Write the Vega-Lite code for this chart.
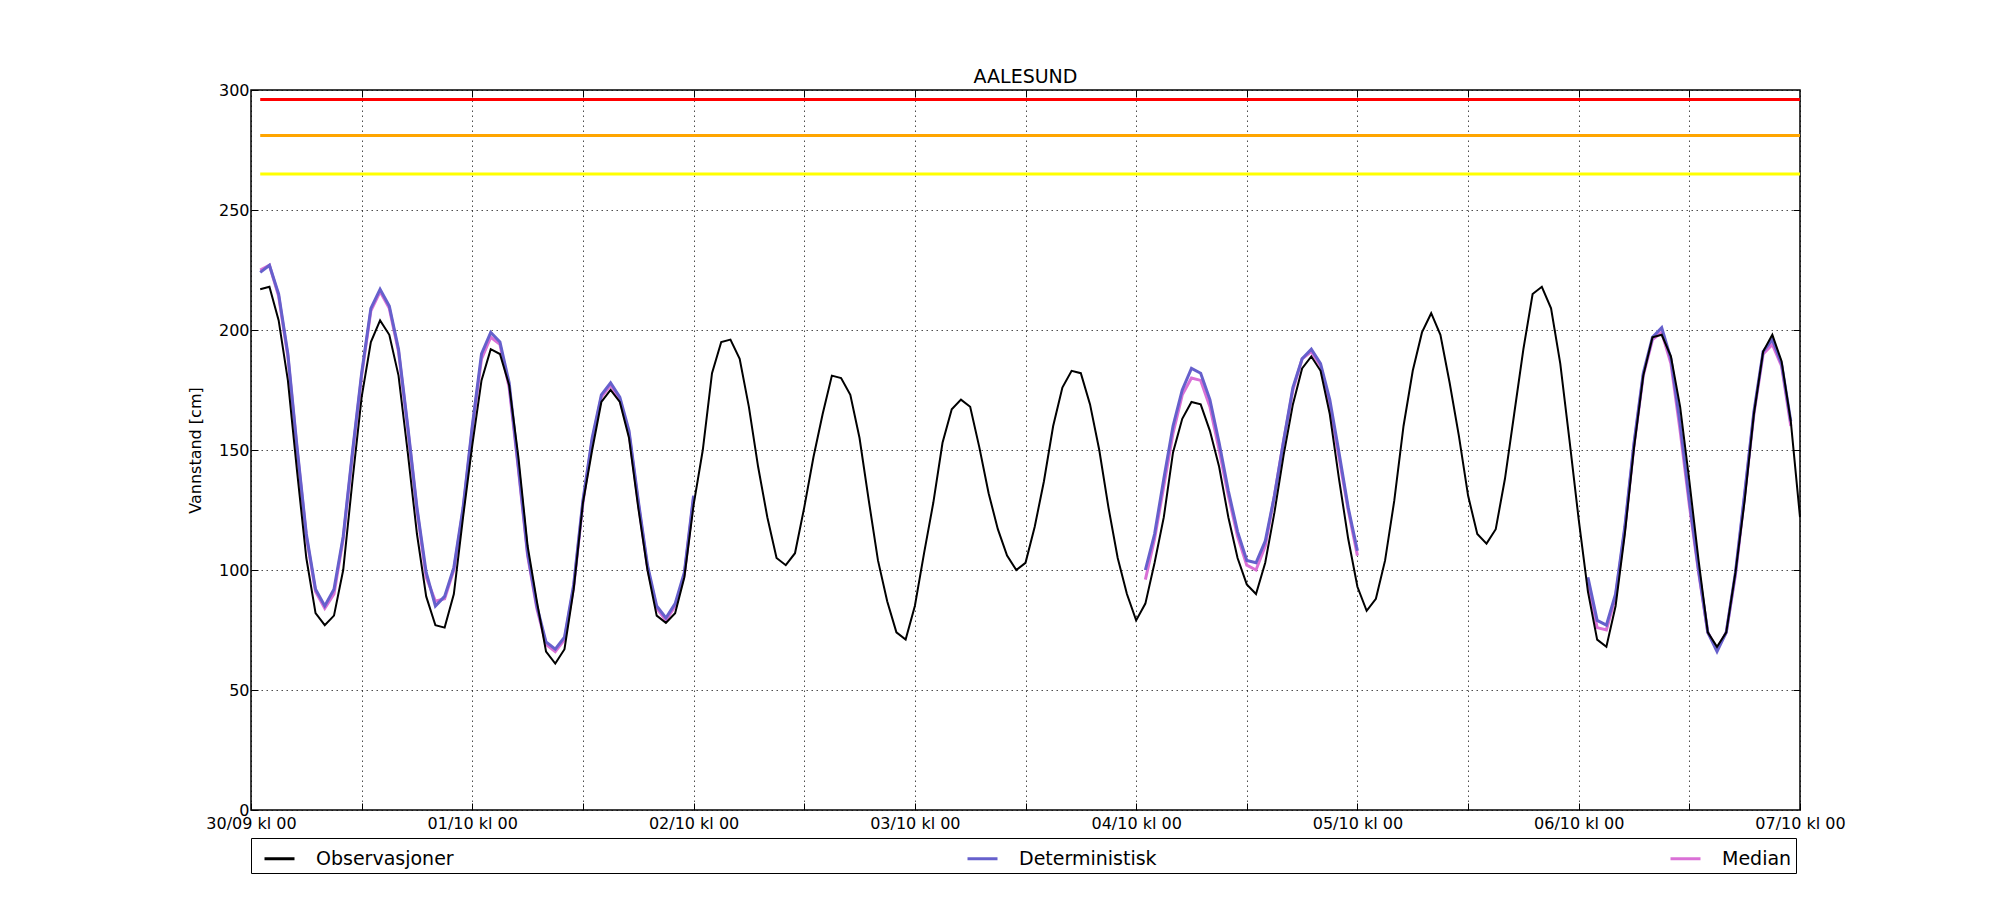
{
  "$schema": "https://vega.github.io/schema/vega-lite/v6.json",
  "width": 1549,
  "height": 720,
  "autosize": {"type": "none"},
  "padding": {"left": 251, "top": 90, "right": 200, "bottom": 90},
  "background": "white",
  "title": {"text": "AALESUND", "fontSize": 19, "fontWeight": "normal", "color": "black", "offset": -5, "anchor": "middle", "font": "DejaVu Sans"},
  "config": {
    "font": "DejaVu Sans",
    "view": {"stroke": "black", "strokeWidth": 1.5},
    "axis": {
      "domain": false, "gridColor": "black", "gridDash": [1.5, 3.5], "gridWidth": 0.7, "gridOpacity": 1,
      "tickColor": "black", "tickSize": -7, "tickWidth": 1,
      "labelFont": "DejaVu Sans", "labelFontSize": 16, "labelColor": "black",
      "titleFont": "DejaVu Sans", "titleFontSize": 16, "titleFontWeight": "normal", "titleColor": "black"
    },
    "legend": {
      "labelFont": "DejaVu Sans", "labelFontSize": 19, "labelColor": "black", "labelOffset": 20,
      "symbolType": "stroke", "symbolSize": 900, "symbolStrokeWidth": 3, "symbolOffset": 8
    }
  },
  "datasets": {
    "grenser": [
      {"grense": "rød", "v": 296, "t": "2015-09-30T01:00Z", "t2": "2015-10-07T00:00Z"},
      {"grense": "oransje", "v": 281, "t": "2015-09-30T01:00Z", "t2": "2015-10-07T00:00Z"},
      {"grense": "gul", "v": 265, "t": "2015-09-30T01:00Z", "t2": "2015-10-07T00:00Z"}
    ],
    "obs": [
      {"t": "2015-09-30T01:00Z", "v": 217}, {"t": "2015-09-30T02:00Z", "v": 218}, {"t": "2015-09-30T03:00Z", "v": 204}, {"t": "2015-09-30T04:00Z", "v": 179},
      {"t": "2015-09-30T05:00Z", "v": 141}, {"t": "2015-09-30T06:00Z", "v": 105}, {"t": "2015-09-30T07:00Z", "v": 82}, {"t": "2015-09-30T08:00Z", "v": 77},
      {"t": "2015-09-30T09:00Z", "v": 81}, {"t": "2015-09-30T10:00Z", "v": 100}, {"t": "2015-09-30T11:00Z", "v": 137}, {"t": "2015-09-30T12:00Z", "v": 172},
      {"t": "2015-09-30T13:00Z", "v": 195}, {"t": "2015-09-30T14:00Z", "v": 204}, {"t": "2015-09-30T15:00Z", "v": 198}, {"t": "2015-09-30T16:00Z", "v": 181},
      {"t": "2015-09-30T17:00Z", "v": 149}, {"t": "2015-09-30T18:00Z", "v": 115}, {"t": "2015-09-30T19:00Z", "v": 89}, {"t": "2015-09-30T20:00Z", "v": 77},
      {"t": "2015-09-30T21:00Z", "v": 76}, {"t": "2015-09-30T22:00Z", "v": 90}, {"t": "2015-09-30T23:00Z", "v": 122},
      {"t": "2015-10-01T00:00Z", "v": 152}, {"t": "2015-10-01T01:00Z", "v": 179}, {"t": "2015-10-01T02:00Z", "v": 192}, {"t": "2015-10-01T03:00Z", "v": 190},
      {"t": "2015-10-01T04:00Z", "v": 177}, {"t": "2015-10-01T05:00Z", "v": 147}, {"t": "2015-10-01T06:00Z", "v": 110}, {"t": "2015-10-01T07:00Z", "v": 87},
      {"t": "2015-10-01T08:00Z", "v": 66}, {"t": "2015-10-01T09:00Z", "v": 61}, {"t": "2015-10-01T10:00Z", "v": 67}, {"t": "2015-10-01T11:00Z", "v": 92},
      {"t": "2015-10-01T12:00Z", "v": 128}, {"t": "2015-10-01T13:00Z", "v": 150}, {"t": "2015-10-01T14:00Z", "v": 170}, {"t": "2015-10-01T15:00Z", "v": 175},
      {"t": "2015-10-01T16:00Z", "v": 170}, {"t": "2015-10-01T17:00Z", "v": 155}, {"t": "2015-10-01T18:00Z", "v": 126}, {"t": "2015-10-01T19:00Z", "v": 100},
      {"t": "2015-10-01T20:00Z", "v": 81}, {"t": "2015-10-01T21:00Z", "v": 78}, {"t": "2015-10-01T22:00Z", "v": 82}, {"t": "2015-10-01T23:00Z", "v": 97},
      {"t": "2015-10-02T00:00Z", "v": 127}, {"t": "2015-10-02T01:00Z", "v": 150}, {"t": "2015-10-02T02:00Z", "v": 182}, {"t": "2015-10-02T03:00Z", "v": 195},
      {"t": "2015-10-02T04:00Z", "v": 196}, {"t": "2015-10-02T05:00Z", "v": 188}, {"t": "2015-10-02T06:00Z", "v": 168}, {"t": "2015-10-02T07:00Z", "v": 143},
      {"t": "2015-10-02T08:00Z", "v": 122}, {"t": "2015-10-02T09:00Z", "v": 105}, {"t": "2015-10-02T10:00Z", "v": 102}, {"t": "2015-10-02T11:00Z", "v": 107},
      {"t": "2015-10-02T12:00Z", "v": 126}, {"t": "2015-10-02T13:00Z", "v": 147}, {"t": "2015-10-02T14:00Z", "v": 165}, {"t": "2015-10-02T15:00Z", "v": 181},
      {"t": "2015-10-02T16:00Z", "v": 180}, {"t": "2015-10-02T17:00Z", "v": 173}, {"t": "2015-10-02T18:00Z", "v": 155}, {"t": "2015-10-02T19:00Z", "v": 129},
      {"t": "2015-10-02T20:00Z", "v": 104}, {"t": "2015-10-02T21:00Z", "v": 87}, {"t": "2015-10-02T22:00Z", "v": 74}, {"t": "2015-10-02T23:00Z", "v": 71},
      {"t": "2015-10-03T00:00Z", "v": 85}, {"t": "2015-10-03T01:00Z", "v": 107}, {"t": "2015-10-03T02:00Z", "v": 128}, {"t": "2015-10-03T03:00Z", "v": 153},
      {"t": "2015-10-03T04:00Z", "v": 167}, {"t": "2015-10-03T05:00Z", "v": 171}, {"t": "2015-10-03T06:00Z", "v": 168}, {"t": "2015-10-03T07:00Z", "v": 151},
      {"t": "2015-10-03T08:00Z", "v": 132}, {"t": "2015-10-03T09:00Z", "v": 117}, {"t": "2015-10-03T10:00Z", "v": 106}, {"t": "2015-10-03T11:00Z", "v": 100},
      {"t": "2015-10-03T12:00Z", "v": 103}, {"t": "2015-10-03T13:00Z", "v": 118}, {"t": "2015-10-03T14:00Z", "v": 137}, {"t": "2015-10-03T15:00Z", "v": 160},
      {"t": "2015-10-03T16:00Z", "v": 176}, {"t": "2015-10-03T17:00Z", "v": 183}, {"t": "2015-10-03T18:00Z", "v": 182}, {"t": "2015-10-03T19:00Z", "v": 169},
      {"t": "2015-10-03T20:00Z", "v": 150}, {"t": "2015-10-03T21:00Z", "v": 126}, {"t": "2015-10-03T22:00Z", "v": 105}, {"t": "2015-10-03T23:00Z", "v": 90},
      {"t": "2015-10-04T00:00Z", "v": 79}, {"t": "2015-10-04T01:00Z", "v": 86}, {"t": "2015-10-04T02:00Z", "v": 103}, {"t": "2015-10-04T03:00Z", "v": 122},
      {"t": "2015-10-04T04:00Z", "v": 149}, {"t": "2015-10-04T05:00Z", "v": 163}, {"t": "2015-10-04T06:00Z", "v": 170}, {"t": "2015-10-04T07:00Z", "v": 169},
      {"t": "2015-10-04T08:00Z", "v": 158}, {"t": "2015-10-04T09:00Z", "v": 143}, {"t": "2015-10-04T10:00Z", "v": 122}, {"t": "2015-10-04T11:00Z", "v": 105},
      {"t": "2015-10-04T12:00Z", "v": 94}, {"t": "2015-10-04T13:00Z", "v": 90}, {"t": "2015-10-04T14:00Z", "v": 103}, {"t": "2015-10-04T15:00Z", "v": 124},
      {"t": "2015-10-04T16:00Z", "v": 148}, {"t": "2015-10-04T17:00Z", "v": 169}, {"t": "2015-10-04T18:00Z", "v": 184}, {"t": "2015-10-04T19:00Z", "v": 189},
      {"t": "2015-10-04T20:00Z", "v": 183}, {"t": "2015-10-04T21:00Z", "v": 165}, {"t": "2015-10-04T22:00Z", "v": 138}, {"t": "2015-10-04T23:00Z", "v": 113},
      {"t": "2015-10-05T00:00Z", "v": 93}, {"t": "2015-10-05T01:00Z", "v": 83}, {"t": "2015-10-05T02:00Z", "v": 88}, {"t": "2015-10-05T03:00Z", "v": 104},
      {"t": "2015-10-05T04:00Z", "v": 129}, {"t": "2015-10-05T05:00Z", "v": 160}, {"t": "2015-10-05T06:00Z", "v": 183}, {"t": "2015-10-05T07:00Z", "v": 199},
      {"t": "2015-10-05T08:00Z", "v": 207}, {"t": "2015-10-05T09:00Z", "v": 198}, {"t": "2015-10-05T10:00Z", "v": 178}, {"t": "2015-10-05T11:00Z", "v": 156},
      {"t": "2015-10-05T12:00Z", "v": 131}, {"t": "2015-10-05T13:00Z", "v": 115}, {"t": "2015-10-05T14:00Z", "v": 111}, {"t": "2015-10-05T15:00Z", "v": 117},
      {"t": "2015-10-05T16:00Z", "v": 138}, {"t": "2015-10-05T17:00Z", "v": 165}, {"t": "2015-10-05T18:00Z", "v": 192}, {"t": "2015-10-05T19:00Z", "v": 215},
      {"t": "2015-10-05T20:00Z", "v": 218}, {"t": "2015-10-05T21:00Z", "v": 209}, {"t": "2015-10-05T22:00Z", "v": 186}, {"t": "2015-10-05T23:00Z", "v": 154},
      {"t": "2015-10-06T00:00Z", "v": 121}, {"t": "2015-10-06T01:00Z", "v": 91}, {"t": "2015-10-06T02:00Z", "v": 71}, {"t": "2015-10-06T03:00Z", "v": 68},
      {"t": "2015-10-06T04:00Z", "v": 85}, {"t": "2015-10-06T05:00Z", "v": 115}, {"t": "2015-10-06T06:00Z", "v": 151}, {"t": "2015-10-06T07:00Z", "v": 181},
      {"t": "2015-10-06T08:00Z", "v": 197}, {"t": "2015-10-06T09:00Z", "v": 198}, {"t": "2015-10-06T10:00Z", "v": 189}, {"t": "2015-10-06T11:00Z", "v": 168},
      {"t": "2015-10-06T12:00Z", "v": 137}, {"t": "2015-10-06T13:00Z", "v": 104}, {"t": "2015-10-06T14:00Z", "v": 74}, {"t": "2015-10-06T15:00Z", "v": 68},
      {"t": "2015-10-06T16:00Z", "v": 74}, {"t": "2015-10-06T17:00Z", "v": 99}, {"t": "2015-10-06T18:00Z", "v": 129}, {"t": "2015-10-06T19:00Z", "v": 165},
      {"t": "2015-10-06T20:00Z", "v": 191}, {"t": "2015-10-06T21:00Z", "v": 198}, {"t": "2015-10-06T22:00Z", "v": 187}, {"t": "2015-10-06T23:00Z", "v": 162},
      {"t": "2015-10-07T00:00Z", "v": 122}
    ],
    "det": [
      {"del": 1, "t": "2015-09-30T01:00Z", "v": 224}, {"del": 1, "t": "2015-09-30T02:00Z", "v": 227}, {"del": 1, "t": "2015-09-30T03:00Z", "v": 215}, {"del": 1, "t": "2015-09-30T04:00Z", "v": 190},
      {"del": 1, "t": "2015-09-30T05:00Z", "v": 151}, {"del": 1, "t": "2015-09-30T06:00Z", "v": 115}, {"del": 1, "t": "2015-09-30T07:00Z", "v": 92}, {"del": 1, "t": "2015-09-30T08:00Z", "v": 85},
      {"del": 1, "t": "2015-09-30T09:00Z", "v": 92}, {"del": 1, "t": "2015-09-30T10:00Z", "v": 114}, {"del": 1, "t": "2015-09-30T11:00Z", "v": 149}, {"del": 1, "t": "2015-09-30T12:00Z", "v": 182},
      {"del": 1, "t": "2015-09-30T13:00Z", "v": 209}, {"del": 1, "t": "2015-09-30T14:00Z", "v": 217}, {"del": 1, "t": "2015-09-30T15:00Z", "v": 210}, {"del": 1, "t": "2015-09-30T16:00Z", "v": 192},
      {"del": 1, "t": "2015-09-30T17:00Z", "v": 160}, {"del": 1, "t": "2015-09-30T18:00Z", "v": 126}, {"del": 1, "t": "2015-09-30T19:00Z", "v": 99}, {"del": 1, "t": "2015-09-30T20:00Z", "v": 85},
      {"del": 1, "t": "2015-09-30T21:00Z", "v": 89}, {"del": 1, "t": "2015-09-30T22:00Z", "v": 101}, {"del": 1, "t": "2015-09-30T23:00Z", "v": 126},
      {"del": 1, "t": "2015-10-01T00:00Z", "v": 160}, {"del": 1, "t": "2015-10-01T01:00Z", "v": 190}, {"del": 1, "t": "2015-10-01T02:00Z", "v": 199}, {"del": 1, "t": "2015-10-01T03:00Z", "v": 195},
      {"del": 1, "t": "2015-10-01T04:00Z", "v": 178}, {"del": 1, "t": "2015-10-01T05:00Z", "v": 143}, {"del": 1, "t": "2015-10-01T06:00Z", "v": 107}, {"del": 1, "t": "2015-10-01T07:00Z", "v": 85},
      {"del": 1, "t": "2015-10-01T08:00Z", "v": 70}, {"del": 1, "t": "2015-10-01T09:00Z", "v": 67}, {"del": 1, "t": "2015-10-01T10:00Z", "v": 72}, {"del": 1, "t": "2015-10-01T11:00Z", "v": 94},
      {"del": 1, "t": "2015-10-01T12:00Z", "v": 129}, {"del": 1, "t": "2015-10-01T13:00Z", "v": 155}, {"del": 1, "t": "2015-10-01T14:00Z", "v": 173}, {"del": 1, "t": "2015-10-01T15:00Z", "v": 178},
      {"del": 1, "t": "2015-10-01T16:00Z", "v": 172}, {"del": 1, "t": "2015-10-01T17:00Z", "v": 158}, {"del": 1, "t": "2015-10-01T18:00Z", "v": 129}, {"del": 1, "t": "2015-10-01T19:00Z", "v": 102},
      {"del": 1, "t": "2015-10-01T20:00Z", "v": 85}, {"del": 1, "t": "2015-10-01T21:00Z", "v": 80}, {"del": 1, "t": "2015-10-01T22:00Z", "v": 86}, {"del": 1, "t": "2015-10-01T23:00Z", "v": 99},
      {"del": 1, "t": "2015-10-02T00:00Z", "v": 131},
      {"del": 2, "t": "2015-10-04T01:00Z", "v": 100}, {"del": 2, "t": "2015-10-04T02:00Z", "v": 115}, {"del": 2, "t": "2015-10-04T03:00Z", "v": 138}, {"del": 2, "t": "2015-10-04T04:00Z", "v": 160},
      {"del": 2, "t": "2015-10-04T05:00Z", "v": 175}, {"del": 2, "t": "2015-10-04T06:00Z", "v": 184}, {"del": 2, "t": "2015-10-04T07:00Z", "v": 182}, {"del": 2, "t": "2015-10-04T08:00Z", "v": 171},
      {"del": 2, "t": "2015-10-04T09:00Z", "v": 153}, {"del": 2, "t": "2015-10-04T10:00Z", "v": 133}, {"del": 2, "t": "2015-10-04T11:00Z", "v": 116}, {"del": 2, "t": "2015-10-04T12:00Z", "v": 104},
      {"del": 2, "t": "2015-10-04T13:00Z", "v": 103}, {"del": 2, "t": "2015-10-04T14:00Z", "v": 112}, {"del": 2, "t": "2015-10-04T15:00Z", "v": 131}, {"del": 2, "t": "2015-10-04T16:00Z", "v": 154},
      {"del": 2, "t": "2015-10-04T17:00Z", "v": 176}, {"del": 2, "t": "2015-10-04T18:00Z", "v": 188}, {"del": 2, "t": "2015-10-04T19:00Z", "v": 192}, {"del": 2, "t": "2015-10-04T20:00Z", "v": 186},
      {"del": 2, "t": "2015-10-04T21:00Z", "v": 171}, {"del": 2, "t": "2015-10-04T22:00Z", "v": 149}, {"del": 2, "t": "2015-10-04T23:00Z", "v": 126}, {"del": 2, "t": "2015-10-05T00:00Z", "v": 108},
      {"del": 3, "t": "2015-10-06T01:00Z", "v": 97}, {"del": 3, "t": "2015-10-06T02:00Z", "v": 79}, {"del": 3, "t": "2015-10-06T03:00Z", "v": 77}, {"del": 3, "t": "2015-10-06T04:00Z", "v": 90},
      {"del": 3, "t": "2015-10-06T05:00Z", "v": 118}, {"del": 3, "t": "2015-10-06T06:00Z", "v": 153}, {"del": 3, "t": "2015-10-06T07:00Z", "v": 182}, {"del": 3, "t": "2015-10-06T08:00Z", "v": 197},
      {"del": 3, "t": "2015-10-06T09:00Z", "v": 201}, {"del": 3, "t": "2015-10-06T10:00Z", "v": 188}, {"del": 3, "t": "2015-10-06T11:00Z", "v": 161}, {"del": 3, "t": "2015-10-06T12:00Z", "v": 129},
      {"del": 3, "t": "2015-10-06T13:00Z", "v": 100}, {"del": 3, "t": "2015-10-06T14:00Z", "v": 74}, {"del": 3, "t": "2015-10-06T15:00Z", "v": 66}, {"del": 3, "t": "2015-10-06T16:00Z", "v": 74},
      {"del": 3, "t": "2015-10-06T17:00Z", "v": 99}, {"del": 3, "t": "2015-10-06T18:00Z", "v": 132}, {"del": 3, "t": "2015-10-06T19:00Z", "v": 166}, {"del": 3, "t": "2015-10-06T20:00Z", "v": 191},
      {"del": 3, "t": "2015-10-06T21:00Z", "v": 196}, {"del": 3, "t": "2015-10-06T22:00Z", "v": 186}, {"del": 3, "t": "2015-10-06T23:00Z", "v": 162}
    ],
    "med": [
      {"del": 1, "t": "2015-09-30T01:00Z", "v": 225}, {"del": 1, "t": "2015-09-30T02:00Z", "v": 227}, {"del": 1, "t": "2015-09-30T03:00Z", "v": 214}, {"del": 1, "t": "2015-09-30T04:00Z", "v": 189},
      {"del": 1, "t": "2015-09-30T05:00Z", "v": 150}, {"del": 1, "t": "2015-09-30T06:00Z", "v": 114}, {"del": 1, "t": "2015-09-30T07:00Z", "v": 91}, {"del": 1, "t": "2015-09-30T08:00Z", "v": 84},
      {"del": 1, "t": "2015-09-30T09:00Z", "v": 90}, {"del": 1, "t": "2015-09-30T10:00Z", "v": 113}, {"del": 1, "t": "2015-09-30T11:00Z", "v": 148}, {"del": 1, "t": "2015-09-30T12:00Z", "v": 181},
      {"del": 1, "t": "2015-09-30T13:00Z", "v": 208}, {"del": 1, "t": "2015-09-30T14:00Z", "v": 216}, {"del": 1, "t": "2015-09-30T15:00Z", "v": 209}, {"del": 1, "t": "2015-09-30T16:00Z", "v": 191},
      {"del": 1, "t": "2015-09-30T17:00Z", "v": 159}, {"del": 1, "t": "2015-09-30T18:00Z", "v": 125}, {"del": 1, "t": "2015-09-30T19:00Z", "v": 97}, {"del": 1, "t": "2015-09-30T20:00Z", "v": 87},
      {"del": 1, "t": "2015-09-30T21:00Z", "v": 88}, {"del": 1, "t": "2015-09-30T22:00Z", "v": 100}, {"del": 1, "t": "2015-09-30T23:00Z", "v": 125},
      {"del": 1, "t": "2015-10-01T00:00Z", "v": 159}, {"del": 1, "t": "2015-10-01T01:00Z", "v": 188}, {"del": 1, "t": "2015-10-01T02:00Z", "v": 197}, {"del": 1, "t": "2015-10-01T03:00Z", "v": 194},
      {"del": 1, "t": "2015-10-01T04:00Z", "v": 176}, {"del": 1, "t": "2015-10-01T05:00Z", "v": 142}, {"del": 1, "t": "2015-10-01T06:00Z", "v": 106}, {"del": 1, "t": "2015-10-01T07:00Z", "v": 84},
      {"del": 1, "t": "2015-10-01T08:00Z", "v": 69}, {"del": 1, "t": "2015-10-01T09:00Z", "v": 66}, {"del": 1, "t": "2015-10-01T10:00Z", "v": 71}, {"del": 1, "t": "2015-10-01T11:00Z", "v": 93},
      {"del": 1, "t": "2015-10-01T12:00Z", "v": 128}, {"del": 1, "t": "2015-10-01T13:00Z", "v": 154}, {"del": 1, "t": "2015-10-01T14:00Z", "v": 172}, {"del": 1, "t": "2015-10-01T15:00Z", "v": 177},
      {"del": 1, "t": "2015-10-01T16:00Z", "v": 171}, {"del": 1, "t": "2015-10-01T17:00Z", "v": 157}, {"del": 1, "t": "2015-10-01T18:00Z", "v": 128}, {"del": 1, "t": "2015-10-01T19:00Z", "v": 101},
      {"del": 1, "t": "2015-10-01T20:00Z", "v": 84}, {"del": 1, "t": "2015-10-01T21:00Z", "v": 79}, {"del": 1, "t": "2015-10-01T22:00Z", "v": 85}, {"del": 1, "t": "2015-10-01T23:00Z", "v": 98},
      {"del": 1, "t": "2015-10-02T00:00Z", "v": 130},
      {"del": 2, "t": "2015-10-04T01:00Z", "v": 96}, {"del": 2, "t": "2015-10-04T02:00Z", "v": 113}, {"del": 2, "t": "2015-10-04T03:00Z", "v": 135}, {"del": 2, "t": "2015-10-04T04:00Z", "v": 157},
      {"del": 2, "t": "2015-10-04T05:00Z", "v": 173}, {"del": 2, "t": "2015-10-04T06:00Z", "v": 180}, {"del": 2, "t": "2015-10-04T07:00Z", "v": 179}, {"del": 2, "t": "2015-10-04T08:00Z", "v": 168},
      {"del": 2, "t": "2015-10-04T09:00Z", "v": 150}, {"del": 2, "t": "2015-10-04T10:00Z", "v": 131}, {"del": 2, "t": "2015-10-04T11:00Z", "v": 114}, {"del": 2, "t": "2015-10-04T12:00Z", "v": 102},
      {"del": 2, "t": "2015-10-04T13:00Z", "v": 100}, {"del": 2, "t": "2015-10-04T14:00Z", "v": 110}, {"del": 2, "t": "2015-10-04T15:00Z", "v": 131}, {"del": 2, "t": "2015-10-04T16:00Z", "v": 154},
      {"del": 2, "t": "2015-10-04T17:00Z", "v": 175}, {"del": 2, "t": "2015-10-04T18:00Z", "v": 188}, {"del": 2, "t": "2015-10-04T19:00Z", "v": 191}, {"del": 2, "t": "2015-10-04T20:00Z", "v": 185},
      {"del": 2, "t": "2015-10-04T21:00Z", "v": 169}, {"del": 2, "t": "2015-10-04T22:00Z", "v": 147}, {"del": 2, "t": "2015-10-04T23:00Z", "v": 125}, {"del": 2, "t": "2015-10-05T00:00Z", "v": 106},
      {"del": 3, "t": "2015-10-06T01:00Z", "v": 95}, {"del": 3, "t": "2015-10-06T02:00Z", "v": 76}, {"del": 3, "t": "2015-10-06T03:00Z", "v": 75}, {"del": 3, "t": "2015-10-06T04:00Z", "v": 89},
      {"del": 3, "t": "2015-10-06T05:00Z", "v": 117}, {"del": 3, "t": "2015-10-06T06:00Z", "v": 152}, {"del": 3, "t": "2015-10-06T07:00Z", "v": 181}, {"del": 3, "t": "2015-10-06T08:00Z", "v": 196},
      {"del": 3, "t": "2015-10-06T09:00Z", "v": 199}, {"del": 3, "t": "2015-10-06T10:00Z", "v": 186}, {"del": 3, "t": "2015-10-06T11:00Z", "v": 158}, {"del": 3, "t": "2015-10-06T12:00Z", "v": 127},
      {"del": 3, "t": "2015-10-06T13:00Z", "v": 99}, {"del": 3, "t": "2015-10-06T14:00Z", "v": 74}, {"del": 3, "t": "2015-10-06T15:00Z", "v": 67}, {"del": 3, "t": "2015-10-06T16:00Z", "v": 74},
      {"del": 3, "t": "2015-10-06T17:00Z", "v": 98}, {"del": 3, "t": "2015-10-06T18:00Z", "v": 131}, {"del": 3, "t": "2015-10-06T19:00Z", "v": 165}, {"del": 3, "t": "2015-10-06T20:00Z", "v": 190},
      {"del": 3, "t": "2015-10-06T21:00Z", "v": 194}, {"del": 3, "t": "2015-10-06T22:00Z", "v": 185}, {"del": 3, "t": "2015-10-06T23:00Z", "v": 160}
    ]
  },
  "resolve": {"axis": {"x": "independent", "y": "independent"}},
  "layer": [
    {
      "encoding": {
        "x": {
          "field": "t", "type": "temporal",
          "scale": {"type": "utc", "domain": [{"year": 2015, "month": 9, "date": 30, "hours": 0, "utc": true}, {"year": 2015, "month": 10, "date": 7, "hours": 0, "utc": true}]},
          "axis": {
            "orient": "bottom", "grid": true, "title": null, "labelPadding": 12, "labelFlush": false, "labelOverlap": false,
            "values": [
              {"year": 2015, "month": 9, "date": 30, "hours": 0, "utc": true}, {"year": 2015, "month": 9, "date": 30, "hours": 12, "utc": true},
              {"year": 2015, "month": 10, "date": 1, "hours": 0, "utc": true}, {"year": 2015, "month": 10, "date": 1, "hours": 12, "utc": true},
              {"year": 2015, "month": 10, "date": 2, "hours": 0, "utc": true}, {"year": 2015, "month": 10, "date": 2, "hours": 12, "utc": true},
              {"year": 2015, "month": 10, "date": 3, "hours": 0, "utc": true}, {"year": 2015, "month": 10, "date": 3, "hours": 12, "utc": true},
              {"year": 2015, "month": 10, "date": 4, "hours": 0, "utc": true}, {"year": 2015, "month": 10, "date": 4, "hours": 12, "utc": true},
              {"year": 2015, "month": 10, "date": 5, "hours": 0, "utc": true}, {"year": 2015, "month": 10, "date": 5, "hours": 12, "utc": true},
              {"year": 2015, "month": 10, "date": 6, "hours": 0, "utc": true}, {"year": 2015, "month": 10, "date": 6, "hours": 12, "utc": true},
              {"year": 2015, "month": 10, "date": 7, "hours": 0, "utc": true}
            ],
            "labelExpr": "utchours(datum.value) == 0 ? utcFormat(datum.value, '%d/%m kl %H') : ''"
          }
        },
        "y": {
          "field": "v", "type": "quantitative",
          "scale": {"domain": [0, 300], "nice": false},
          "axis": {"orient": "left", "grid": true, "title": "Vannstand [cm]", "values": [0, 50, 100, 150, 200, 250, 300], "labelPadding": 9, "titlePadding": 15}
        }
      },
      "layer": [
        {
          "data": {"name": "med"},
          "mark": {"type": "line", "strokeWidth": 3},
          "encoding": {
            "detail": {"field": "del", "type": "nominal"},
            "color": {
              "datum": "Median",
              "scale": {"domain": ["Observasjoner", "Deterministisk", "Median"], "range": ["#000000", "#6660cc", "#da70d6"]},
              "legend": {"title": null, "orient": "none", "legendX": 0, "legendY": 748, "direction": "horizontal", "columns": 3, "columnPadding": 504, "padding": 4, "strokeColor": "black"}
            }
          }
        },
        {
          "data": {"name": "det"},
          "mark": {"type": "line", "strokeWidth": 3},
          "encoding": {
            "detail": {"field": "del", "type": "nominal"},
            "color": {"datum": "Deterministisk"}
          }
        },
        {
          "data": {"name": "obs"},
          "mark": {"type": "line", "strokeWidth": 2},
          "encoding": {
            "color": {"datum": "Observasjoner"}
          }
        }
      ]
    },
    {
      "data": {"name": "grenser"},
      "mark": {"type": "rule", "strokeWidth": 3},
      "encoding": {
        "x": {
          "field": "t", "type": "temporal",
          "scale": {"type": "utc", "domain": [{"year": 2015, "month": 9, "date": 30, "hours": 0, "utc": true}, {"year": 2015, "month": 10, "date": 7, "hours": 0, "utc": true}]},
          "axis": {
            "orient": "top", "grid": false, "labels": false, "title": null,
            "values": [
              {"year": 2015, "month": 9, "date": 30, "hours": 12, "utc": true},
              {"year": 2015, "month": 10, "date": 1, "hours": 0, "utc": true}, {"year": 2015, "month": 10, "date": 1, "hours": 12, "utc": true},
              {"year": 2015, "month": 10, "date": 2, "hours": 0, "utc": true}, {"year": 2015, "month": 10, "date": 2, "hours": 12, "utc": true},
              {"year": 2015, "month": 10, "date": 3, "hours": 0, "utc": true}, {"year": 2015, "month": 10, "date": 3, "hours": 12, "utc": true},
              {"year": 2015, "month": 10, "date": 4, "hours": 0, "utc": true}, {"year": 2015, "month": 10, "date": 4, "hours": 12, "utc": true},
              {"year": 2015, "month": 10, "date": 5, "hours": 0, "utc": true}, {"year": 2015, "month": 10, "date": 5, "hours": 12, "utc": true},
              {"year": 2015, "month": 10, "date": 6, "hours": 0, "utc": true}, {"year": 2015, "month": 10, "date": 6, "hours": 12, "utc": true}
            ]
          }
        },
        "x2": {"field": "t2"},
        "y": {
          "field": "v", "type": "quantitative",
          "scale": {"domain": [0, 300], "nice": false},
          "axis": {"orient": "right", "grid": false, "labels": false, "title": null, "values": [50, 100, 150, 200, 250]}
        },
        "stroke": {"field": "grense", "type": "nominal", "scale": {"domain": ["rød", "oransje", "gul"], "range": ["#ff0000", "#ffa500", "#ffff00"]}, "legend": null}
      }
    }
  ]
}
